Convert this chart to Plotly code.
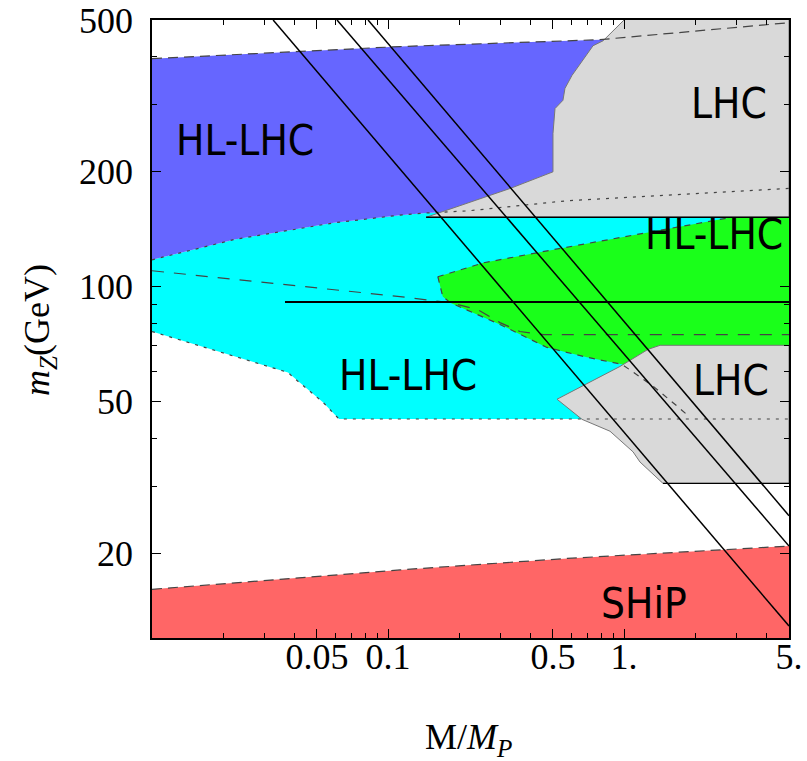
import math
import plotly.graph_objects as go

# ---------------- axis ticks ----------------
x_major = [0.05, 0.1, 0.5, 1, 5]
x_major_text = ["0.05", "0.1", "0.5", "1.", "5."]
x_minor = [0.02, 0.03, 0.04, 0.06, 0.07, 0.08, 0.09, 0.2, 0.3, 0.4,
           0.6, 0.7, 0.8, 0.9, 2, 3, 4]
y_major = [20, 50, 100, 200, 500]
y_major_text = ["20", "50", "100", "200", "500"]
y_minor = [30, 40, 60, 70, 80, 90, 300, 400]

# ---------------- regions ----------------
blue_top_x = [0.01, 0.1124, 0.79, 2.1, 5.0]
blue_top_y = [396, 426, 444, 469, 492]
blue_bot_x = [0.01, 0.0224, 0.059, 0.1124, 0.145, 0.218, 0.575, 1.52, 5.0]
blue_bot_y = [117.6, 133, 147, 154, 156, 158, 168, 174, 181]
cyan_bot_x = [0.01, 0.0377, 0.0395, 0.053, 0.062, 5.0]
cyan_bot_y = [76.3, 59.6, 58.0, 49.8, 45.0, 45.0]
green_top_x = [0.1626, 0.254, 0.537, 1.203, 2.86, 5.0]
green_top_y = [106.2, 115.5, 126, 138, 152, 152]
green_bot_x = [0.1626, 0.1706, 0.1834, 0.2982, 0.4715, 0.697, 0.98, 1.092, 1.33, 1.68, 1.9, 5.0]
green_bot_y = [106.2, 94.2, 90.8, 79.6, 69.3, 65.3, 62.6, 59.6, 54.8, 48.6, 45.5, 45.0]
ldash_x = [0.01, 0.1124, 0.183, 0.24, 0.298, 0.362, 0.455, 5.0]
ldash_y = [110.1, 94.2, 90.8, 87.1, 80.5, 76.3, 74.9, 74.9]
lhc_up_x = [1.0, 0.815, 0.739, 0.664, 0.602, 0.562, 0.551, 0.510, 0.500, 0.500, 0.330, 0.145, 5.0, 5.0]
lhc_up_y = [500, 441, 428, 391, 358, 331, 308, 293, 252, 200, 181, 152, 152, 500]
lhc_lo_x = [0.520, 0.962, 1.264, 1.421, 5.0, 5.0, 1.463, 1.169, 1.092, 0.872, 0.664, 0.520]
lhc_lo_y = [50.7, 61.8, 68.5, 70.2, 70.2, 30.5, 30.5, 34.7, 36.9, 41.8, 44.9, 50.7]
ship_x = [0.01, 0.1124, 0.575, 5.0]
ship_y = [16.1, 18.1, 19.4, 20.9]
y_floor = 11

# ---------------- lines ----------------
diag_x = [[0.0326, 5.0], [0.0608, 5.0], [0.0823, 5.0]]
diag_y = [[500, 12.9], [500, 20.9], [500, 25.1]]
mz_line_x = [0.0366, 5.0]
mz_line_y = [91.19, 91.19]
hl_edge_x = [0.145, 5.0]
hl_edge_y = [152, 152]
lhc_edge_x = [1.463, 5.0]
lhc_edge_y = [30.5, 30.5]

# ---------------- labels ----------------
lab_text = ["HL-LHC", "HL-LHC", "HL-LHC", "LHC", "LHC", "SHiP"]
lab_x = [0.0247, 0.1216, 2.405, 2.786, 2.84, 1.215]
lab_y = [242, 58.5, 137, 302, 56.8, 14.8]

BLUE = "#6666FF"
CYAN = "#00FFFF"
GREEN = "#1AFF1A"
GREY = "#D9D9D9"
RED = "#FF6666"
EDGE = "#444444"

fig = go.Figure()


def fill(x, y, color, outline=None):
    fig.add_trace(go.Scatter(x=x, y=y, mode="lines", fill="toself",
                             fillcolor=color,
                             line=dict(color=outline or color, width=1 if outline else 0),
                             hoverinfo="skip", showlegend=False))


def line(x, y, color="black", width=1, dash="solid"):
    fig.add_trace(go.Scatter(x=x, y=y, mode="lines",
                             line=dict(color=color, width=width, dash=dash),
                             hoverinfo="skip", showlegend=False))


fill(ship_x + [ship_x[-1], ship_x[0]], ship_y + [y_floor, y_floor], RED)
fill(blue_bot_x + cyan_bot_x[::-1], blue_bot_y + cyan_bot_y[::-1], CYAN)
fill(blue_top_x + blue_bot_x[::-1], blue_top_y + blue_bot_y[::-1], BLUE)
fill(green_top_x + green_bot_x[::-1], green_top_y + green_bot_y[::-1], GREEN)
fill(lhc_up_x, lhc_up_y, GREY, outline="#777777")
fill(lhc_lo_x, lhc_lo_y, GREY, outline="#777777")

line(blue_top_x, blue_top_y, EDGE, 1.2, "10px,6px")
line(blue_bot_x, blue_bot_y, EDGE, 1.2, "3px,6px")
line(cyan_bot_x, cyan_bot_y, EDGE, 1.2, "3px,6px")
line(green_top_x[:-1], green_top_y[:-1], EDGE, 1.2, "6px,6px")
line(green_bot_x[:-1], green_bot_y[:-1], EDGE, 1.2, "6px,6px")
line(ldash_x, ldash_y, EDGE, 1.2, "12px,10px")
line(ship_x, ship_y, EDGE, 1.2, "10px,6px")

line(mz_line_x, mz_line_y, "black", 2)
line(hl_edge_x, hl_edge_y, "black", 1.5)
line(lhc_edge_x, lhc_edge_y, "black", 1.2)
for dx, dy in zip(diag_x, diag_y):
    line(dx, dy, "black", 1.5)

LABEL_FONT = dict(family="DejaVu Sans Condensed, Roboto, Liberation Sans",
                  size=42, color="black")
for t, x, y in zip(lab_text, lab_x, lab_y):
    fig.add_annotation(x=math.log10(x), y=math.log10(y), xref="x", yref="y", text=t,
                       showarrow=False, font=LABEL_FONT,
                       xanchor="center", yanchor="middle")

SERIF = "Liberation Serif"
tickfont = dict(family=SERIF, size=36, color="black")

fig.update_xaxes(type="log", range=[-2, 0.69897], tickmode="array",
                 tickvals=x_major, ticktext=x_major_text, tickfont=tickfont,
                 ticks="inside", ticklen=9, tickwidth=1, tickcolor="black",
                 minor=dict(tickmode="array", tickvals=x_minor, ticks="inside",
                            ticklen=5, tickwidth=1, tickcolor="black"),
                 showline=True, linecolor="black", linewidth=1.5, mirror="allticks",
                 showgrid=False, zeroline=False, ticklabelstandoff=-14, automargin=False)
fig.update_yaxes(type="log", range=[1.07918, 2.69897], tickmode="array",
                 tickvals=y_major, ticktext=y_major_text, tickfont=tickfont,
                 ticks="inside", ticklen=9, tickwidth=1, tickcolor="black",
                 minor=dict(tickmode="array", tickvals=y_minor, ticks="inside",
                            ticklen=5, tickwidth=1, tickcolor="black"),
                 showline=True, linecolor="black", linewidth=1.5, mirror="allticks",
                 showgrid=False, zeroline=False, ticklabelstandoff=10, automargin=False)

fig.add_annotation(xref="paper", yref="paper", x=-0.1758, y=0.4984,
                   text="<i>m</i><sub><i>Z</i></sub>(GeV)", showarrow=False,
                   textangle=-90, font=dict(family=SERIF, size=36, color="black"),
                   xanchor="center", yanchor="middle")
fig.add_annotation(xref="paper", yref="paper", x=0.4976, y=-0.165,
                   text="M/<i>M</i><sub><i>P</i></sub>", showarrow=False,
                   font=dict(family=SERIF, size=36, color="black"),
                   xanchor="center", yanchor="middle")

fig.update_layout(width=807, height=761,
                  margin=dict(l=152, r=18, t=20, b=123),
                  font=dict(family=SERIF, size=36, color="black"),
                  plot_bgcolor="white", paper_bgcolor="white",
                  showlegend=False, hovermode=False)

fig.write_html("out.html")
